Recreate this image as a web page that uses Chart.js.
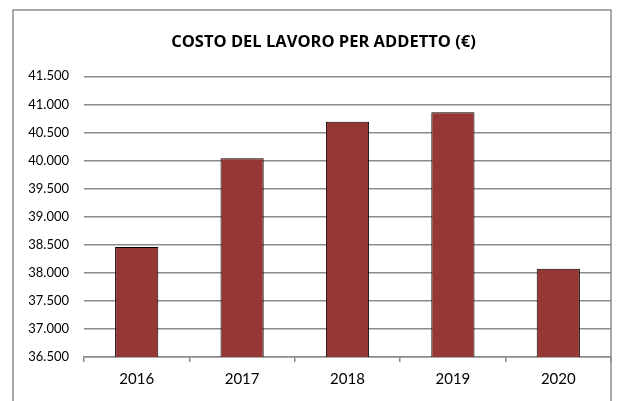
<!DOCTYPE html>
<html>
<head>
<meta charset="utf-8">
<script src="https://cdn.jsdelivr.net/npm/chart.js@4/dist/chart.umd.min.js"></script>
<style>
  html, body { margin: 0; padding: 0; background: #fff; }
  #wrap { width: 619px; height: 401px; }
</style>
</head>
<body>
<div id="wrap"><canvas id="costChart" width="619" height="401"></canvas></div>
<script>
const years = ['2016', '2017', '2018', '2019', '2020'];
const costPerEmployee = [38460, 40040, 40690, 40860, 38070];
const yMin = 36500;
const yMax = 41500;
const yStep = 500;

// outer frame like the spreadsheet chart box
const frame = {
    id: 'frame',
    afterLayout(chart) {
        // title in the original sits a little right of centre
        const t = chart.titleBlock;
        if (t) { t.left += 6; t.right += 6; }
    },
    afterDraw(chart) {
        const c = chart.ctx;
        c.save();
        c.strokeStyle = '#8c8c8c';
        c.lineWidth = 1.5;
        c.strokeRect(13, 10, 598, 400);
        c.restore();
    }
};

const fmt = v => v.toLocaleString('it-IT', { useGrouping: true, minimumFractionDigits: 0 }).replace(/\s/g, '.');

const ctx = document.getElementById('costChart').getContext('2d');
new Chart(ctx, {
    type: 'bar',
    data: {
        labels: years,
        datasets: [{
            label: 'Costo del lavoro per addetto',
            data: costPerEmployee,
            backgroundColor: '#953735',
            borderColor: '#000',
            borderWidth: 1,
            categoryPercentage: 1,
            barPercentage: 0.41
        }]
    },
    options: {
        responsive: false,
        animation: false,
        layout: { padding: { left: 24, right: 8, top: 0, bottom: 5 } },
        plugins: {
            legend: { display: false },
            tooltip: { enabled: false },
            title: {
                display: true,
                text: 'COSTO DEL LAVORO PER ADDETTO (€)',
                color: '#000',
                font: { family: 'Open Sans', size: 16.5, weight: 'bold' },
                padding: { top: 32, bottom: 24.5 }
            }
        },
        scales: {
            x: {
                grid: {
                    offset: true,
                    drawOnChartArea: false,
                    drawTicks: true,
                    tickLength: 5,
                    color: '#8c8c8c',
                    lineWidth: 1.5
                },
                border: { display: true, color: '#8c8c8c', width: 1.5 },
                ticks: {
                    color: '#000',
                    padding: 8,
                    font: { family: 'Lato', size: 15 }
                }
            },
            y: {
                min: yMin,
                max: yMax,
                afterFit(scale) { scale.width = 60; },
                grid: { color: '#8c8c8c', lineWidth: 1.5, drawTicks: false },
                border: { display: false },
                ticks: {
                    stepSize: yStep,
                    color: '#000',
                    padding: 15,
                    font: { family: 'Lato', size: 13 },
                    callback: v => fmt(v)
                }
            }
        }
    },
    plugins: [frame]
});
</script>
</body>
</html>
